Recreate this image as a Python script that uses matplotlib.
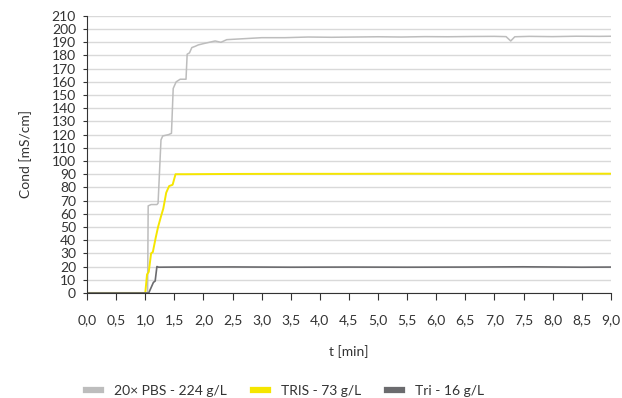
import matplotlib.pyplot as plt
import numpy as np

# data
t_pbs = [0.0, 1.0, 1.04, 1.05, 1.10, 1.20, 1.22, 1.27, 1.30, 1.40, 1.45, 1.48, 1.53, 1.60, 1.70,
         1.72, 1.76, 1.80, 1.86, 1.91, 2.0, 2.1, 2.2, 2.3, 2.4, 2.6, 2.8, 3.0, 3.4, 3.8, 4.2,
         4.6, 5.0, 5.4, 5.8, 6.2, 6.6, 7.0, 7.2, 7.28, 7.35, 7.6, 8.0, 8.4, 8.8, 9.0]
c_pbs = [0, 0, 0, 66, 67, 67, 68, 116, 119, 120, 121, 155, 160, 162, 162,
         181, 182, 186, 187, 188, 189, 190, 191, 190, 192, 192.5, 193, 193.5, 193.5, 194, 193.8,
         194, 194.2, 194, 194.3, 194.2, 194.4, 194.5, 194.3, 191, 194.2, 194.5, 194.3, 194.6, 194.5, 194.6]

t_tris = [0.0, 1.0, 1.03, 1.06, 1.10, 1.13, 1.18, 1.22, 1.27, 1.31, 1.36, 1.41, 1.47, 1.52,
          1.7, 2.5, 3.5, 4.5, 5.5, 6.5, 7.5, 8.5, 9.0]
c_tris = [0, 0, 14, 16, 30, 31, 42, 50, 58, 64, 76, 81, 82, 90,
          90, 90.2, 90.3, 90.3, 90.4, 90.3, 90.3, 90.4, 90.4]

t_tri = [0.0, 1.06, 1.10, 1.14, 1.17, 1.20, 1.23, 1.5, 2.5, 3.5, 4.5, 5.5, 6.5, 7.5, 8.5, 9.0]
c_tri = [0, 0, 4, 8, 9, 20, 19.5, 19.6, 19.7, 19.5, 19.6, 19.5, 19.6, 19.8, 19.5, 19.6]

labels = ['20× PBS - 224 g/L', 'TRIS - 73 g/L', 'Tri - 16 g/L']
colors = ['#bdbdbd', '#f5e600', '#6b6b6e']

plt.rcParams['font.family'] = ['Lato', 'DejaVu Sans']
fs = 10

fig = plt.figure(figsize=(6.22, 3.98), dpi=100)
ax = fig.add_axes([0.14, 0.264, 0.842, 0.696])

ax.plot(t_pbs, c_pbs, color=colors[0], lw=1.1, label=labels[0])
ax.plot(t_tris, c_tris, color=colors[1], lw=1.4, label=labels[1])
ax.plot(t_tri, c_tri, color=colors[2], lw=1.2, label=labels[2])

ax.set_xlim(0, 9)
ax.set_ylim(0, 210)
ax.set_xticks(np.arange(0, 9.01, 0.5))
ax.set_xticklabels([f'{v:.1f}'.replace('.', ',') for v in np.arange(0, 9.01, 0.5)])
ax.set_yticks(range(0, 211, 10))
ax.grid(axis='y', color='#d9d9d9', lw=1)
ax.set_axisbelow(True)

for s in ['top', 'right']:
    ax.spines[s].set_visible(False)
for s in ['left', 'bottom']:
    ax.spines[s].set_color('#333333')
ax.tick_params(axis='y', length=3, color='#333333', labelsize=fs, pad=5, labelcolor='#333333')
ax.tick_params(axis='x', length=5, color='#333333', labelsize=fs, pad=10, labelcolor='#333333')

ax.set_xlabel('t [min]', fontsize=fs, color='#333333', labelpad=14)
ax.set_ylabel('Cond [mS/cm]', fontsize=fs, color='#333333', labelpad=14)

leg = fig.legend(loc='lower left', bbox_to_anchor=(0.118, -0.028), ncol=3, frameon=False,
                 fontsize=fs, handlelength=1.1, handletextpad=0.9, columnspacing=1.9,
                 labelcolor='#333333')
for h in leg.get_lines():
    h.set_linewidth(4.5)

fig.savefig('out.png', dpi=100)
